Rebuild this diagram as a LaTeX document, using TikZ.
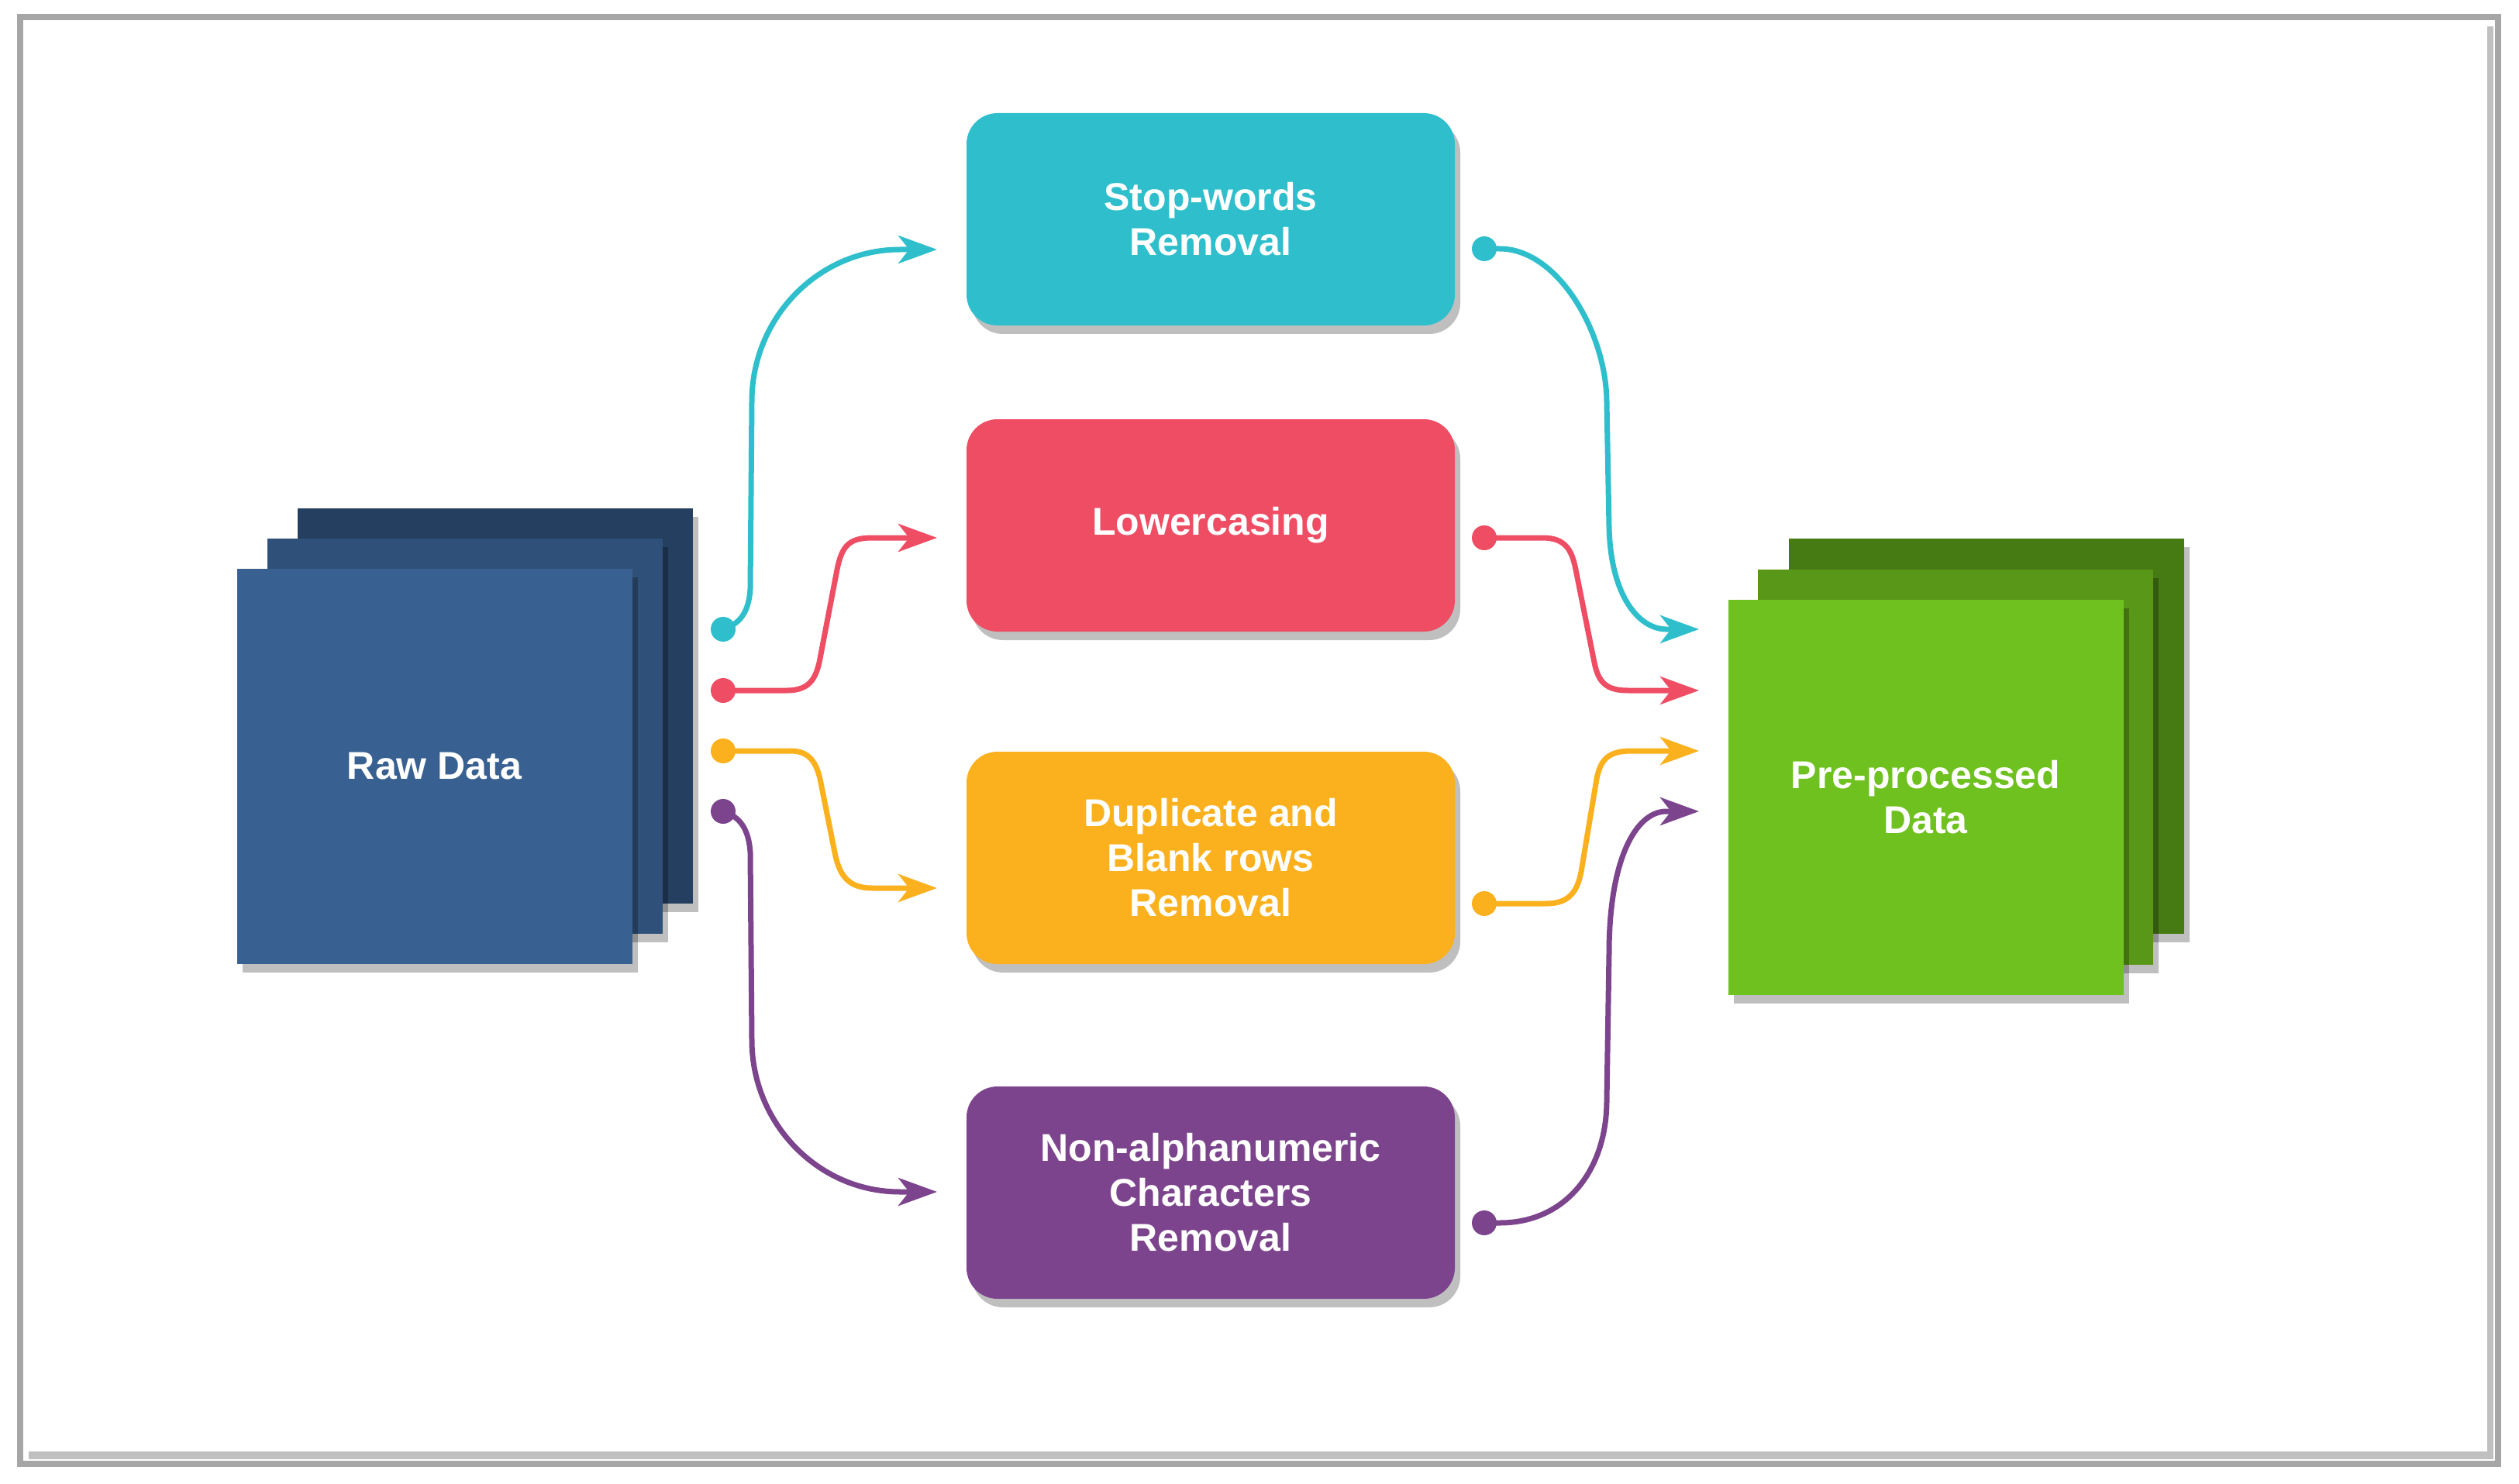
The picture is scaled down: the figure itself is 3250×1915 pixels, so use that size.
\documentclass[tikz,border=0pt]{standalone}
\usepackage{fontspec}
\setmainfont{Liberation Sans}
\usetikzlibrary{arrows.meta,shadows}
\definecolor{cy}{HTML}{2FBFCC}
\definecolor{rd}{HTML}{EE4D64}
\definecolor{yl}{HTML}{FBB11D}
\definecolor{pu}{HTML}{7D448E}
\definecolor{bA}{HTML}{386192}
\definecolor{bB}{HTML}{2F5179}
\definecolor{bC}{HTML}{243F5F}
\definecolor{gA}{HTML}{6EC11E}
\definecolor{gB}{HTML}{589718}
\definecolor{gC}{HTML}{467A12}
\definecolor{frameg}{HTML}{A6A6A6}
\definecolor{frameshadow}{HTML}{C0C0C0}
\begin{document}
\begin{tikzpicture}[x=0.5pt,y=-0.5pt,
  shad/.style={drop shadow={shadow xshift=3.5pt, shadow yshift=-5.5pt, fill=black, opacity=0.25}},
  labeltext/.style={text=white, font=\bfseries\fontsize{25}{29}\selectfont, align=center},
  stacksheet/.style={rectangle, minimum width=255pt, minimum height=255pt, inner sep=0pt, shad, labeltext},
  procbox/.style={rectangle, rounded corners=20pt, minimum width=315pt, minimum height=137pt, inner sep=0pt, shad, labeltext},
  enddot/.style={circle, minimum size=16pt, inner sep=0pt},
  flowlink/.style={line width=3.5pt, -{Stealth[length=25pt,width=18pt,inset=7pt]}},
]
\useasboundingbox (0,0) rectangle (3250,1915);
% frame
\fill[frameshadow] (37,34) rectangle (3217,1883);
\fill[white] (29,26) rectangle (3209,1873);
\draw[frameg, line width=4pt] (26,22) rectangle (3223,1889);

% raw data stack
\node[stacksheet, fill=bC] (rawC) at (639,910.5) {};
\node[stacksheet, fill=bB] (rawB) at (599.5,950) {};
\node[stacksheet, fill=bA] (raw) at (560.5,989) {Raw Data};

% pre-processed stack
\node[stacksheet, fill=gC] (preC) at (2563,950) {};
\node[stacksheet, fill=gB] (preB) at (2523,989.5) {};
\node[stacksheet, fill=gA] (pre) at (2484.5,1028.5) {Pre-processed\\Data};

% process boxes
\node[procbox, fill=cy] (stop) at (1562,283) {Stop-words\\Removal};
\node[procbox, fill=rd] (lower) at (1562,678) {Lowercasing};
\node[procbox, fill=yl] (dup) at (1562,1107) {Duplicate and\\Blank rows\\Removal};
\node[procbox, fill=pu] (nonal) at (1562,1539) {Non-alphanumeric\\Characters\\Removal};

% dots
\node[enddot, fill=cy] (dL1) at (933,812) {};
\node[enddot, fill=rd] (dL2) at (933,891) {};
\node[enddot, fill=yl] (dL3) at (933,969) {};
\node[enddot, fill=pu] (dL4) at (933,1047) {};
\node[enddot, fill=cy] (dR1) at (1915,321) {};
\node[enddot, fill=rd] (dR2) at (1915,694) {};
\node[enddot, fill=yl] (dR3) at (1915,1166) {};
\node[enddot, fill=pu] (dR4) at (1915,1578) {};

% arrow ends
\coordinate (tL1) at (1209,322);
\coordinate (tL2) at (1209,694);
\coordinate (tL3) at (1209,1146);
\coordinate (tL4) at (1209,1538);
\coordinate (tR1) at (2192,812);
\coordinate (tR2) at (2192,891);
\coordinate (tR3) at (2192,969);
\coordinate (tR4) at (2192,1047);

% left connectors
\draw[flowlink, cy] (dL1.center) .. controls (955,805) and (966,790) .. (968,760) -- (970,518) .. controls (970,410) and (1056,322) .. (1161,322) -- (tL1);
\draw[flowlink, rd] (dL2.center) -- (1015,891) .. controls (1045,891) and (1052,875) .. (1057,855) -- (1080,735) .. controls (1086,705) and (1095,694) .. (1125,694) -- (tL2);
\draw[flowlink, yl] (dL3.center) -- (1020,969) .. controls (1045,969) and (1053,985) .. (1058,1005) -- (1078,1105) .. controls (1084,1130) and (1095,1146) .. (1125,1146) -- (tL3);
\draw[flowlink, pu] (dL4.center) .. controls (955,1054) and (966,1070) .. (968,1100) -- (970,1342) .. controls (970,1450) and (1056,1538) .. (1161,1538) -- (tL4);

% right connectors
\draw[flowlink, cy] (dR1.center) -- (1935,321) .. controls (2010,321) and (2073,430) .. (2073,520) -- (2076,680) .. controls (2078,770) and (2115,812) .. (2150,812) -- (tR1);
\draw[flowlink, rd] (dR2.center) -- (1990,694) .. controls (2020,694) and (2028,710) .. (2033,735) -- (2057,855) .. controls (2062,880) and (2072,891) .. (2100,891) -- (tR2);
\draw[flowlink, yl] (dR3.center) -- (1995,1166) .. controls (2025,1166) and (2035,1150) .. (2040,1125) -- (2060,1005) .. controls (2065,980) and (2075,969) .. (2105,969) -- (tR3);
\draw[flowlink, pu] (dR4.center) -- (1935,1578) .. controls (2020,1578) and (2073,1510) .. (2073,1420) -- (2076,1230) .. controls (2076,1110) and (2110,1047) .. (2150,1047) -- (tR4);
\end{tikzpicture}
\end{document}
